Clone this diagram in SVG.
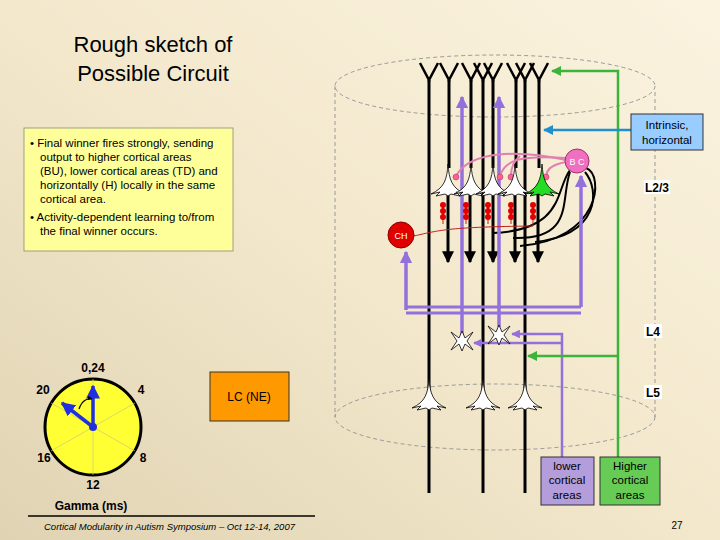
<svg xmlns="http://www.w3.org/2000/svg" xmlns:xlink="http://www.w3.org/1999/xlink" width="720" height="540" viewBox="0 0 720 540">
<defs>
<linearGradient id="bg" x1="1" y1="0" x2="0" y2="1"><stop offset="0" stop-color="#fbf3e0"/><stop offset="0.5" stop-color="#f3e8cc"/><stop offset="1" stop-color="#e0d3b3"/></linearGradient>
<marker id="ab" viewBox="0 0 10 10" refX="9" refY="5" markerWidth="4" markerHeight="4" orient="auto"><path d="M0,0L10,5L0,10z" fill="#000"/></marker>
<marker id="ap" viewBox="0 0 10 10" refX="9" refY="5" markerWidth="3.5" markerHeight="3.5" orient="auto"><path d="M0,0L10,5L0,10z" fill="#9370db"/></marker>
<marker id="ag" viewBox="0 0 10 10" refX="9" refY="5" markerWidth="4" markerHeight="4" orient="auto"><path d="M0,0L10,5L0,10z" fill="#3cb43c"/></marker>
<marker id="abl" viewBox="0 0 10 10" refX="9" refY="5" markerWidth="4" markerHeight="4" orient="auto"><path d="M0,0L10,5L0,10z" fill="#1e90d0"/></marker>
<marker id="ah" viewBox="0 0 10 10" refX="9" refY="5" markerWidth="4" markerHeight="4" orient="auto"><path d="M0,0L10,5L0,10z" fill="#2030e0"/></marker>
<path id="pyr" d="M0,-26 C1,-10 4,-2 17,4 L8,2 L12,6 L3,4 L0,6 L-3,4 L-12,6 L-8,2 L-17,4 C-4,-2 -1,-10 0,-26z" stroke="#000" stroke-width="0.8" fill="#fff"/>
<path id="star" d="M-11,-9 L-3,-3 L0,-10 L3,-3 L11,-9 L5,0 L11,9 L3,3 L0,10 L-3,3 L-11,9 L-5,0z" stroke="#000" stroke-width="0.8" fill="#fff"/>
<g id="chain" fill="#e00000"><ellipse cx="0" cy="-6" rx="3" ry="3"/><ellipse cx="0" cy="0" rx="3" ry="3"/><ellipse cx="0" cy="6" rx="3" ry="3"/><rect x="-1" y="-6" width="2" height="12"/></g>
<g id="yy" fill="none" stroke="#000" stroke-width="2.5"><path d="M0,82 L0,78 M-9,63 L0,80 L9,63"/></g>
<style>
text{font-family:"Liberation Sans",Arial,sans-serif}
.ax{stroke:#000;stroke-width:3;fill:none}
.pu{stroke:#9370db;stroke-width:3.5;fill:none}
.gr{stroke:#3cb43c;stroke-width:2.5;fill:none}
.lbl{font-size:12px;font-weight:bold}
</style>
</defs>
<rect width="720" height="540" fill="url(#bg)"/>
<text x="153" y="52" font-size="22" text-anchor="middle">Rough sketch of</text>
<text x="153" y="81" font-size="22" text-anchor="middle">Possible Circuit</text>
<g id="textbox"><rect x="24" y="128" width="209" height="123" fill="#ffff99" stroke="#888" stroke-width="0.8"/>
<g font-size="11.5"><text x="30" y="147">• Final winner fires strongly, sending</text><text x="40" y="161">output to higher cortical areas</text><text x="40" y="175">(BU), lower cortical areas (TD) and</text><text x="40" y="189">horizontally (H) locally in the same</text><text x="40" y="203">cortical area.</text><text x="30" y="221">• Activity-dependent learning to/from</text><text x="40" y="235">the final winner occurs.</text></g></g>
<g id="cylinder" fill="none" stroke="#999" stroke-width="1" stroke-dasharray="4,3">
<ellipse cx="495" cy="86" rx="160" ry="31"/><path d="M335,86 V417"/><path d="M655,92 V417"/><ellipse cx="495" cy="417" rx="160" ry="33"/></g>
<g id="connectors">
<g class="ax"><path d="M429,80 V493"/><path d="M449,80 V168"/><path d="M471,80 V168"/><path d="M483,80 V493"/><path d="M493,80 V168"/><path d="M516,80 V168"/><path d="M525,80 V493"/><path d="M539,80 V168"/>
<path d="M448,185 V262" marker-end="url(#ab)"/><path d="M470,185 V262" marker-end="url(#ab)"/><path d="M493,185 V262" marker-end="url(#ab)"/><path d="M515,185 V262" marker-end="url(#ab)"/><path d="M538,185 V262" marker-end="url(#ab)"/></g>
<use href="#yy" x="429"/><use href="#yy" x="449"/><use href="#yy" x="471"/><use href="#yy" x="483"/><use href="#yy" x="493"/><use href="#yy" x="516"/><use href="#yy" x="525"/><use href="#yy" x="539"/>
<g fill="none" stroke="#000" stroke-width="2"><path d="M570,170 C555,190 565,230 493,233"/><path d="M570,172 C560,200 575,240 513,238"/><path d="M585,172 C600,190 600,235 535,242"/><path d="M586,168 C605,175 600,240 520,246"/></g>
<path d="M462,334 V97" class="pu" marker-end="url(#ap)"/><path d="M499,327 V97" class="pu" marker-end="url(#ap)"/><path d="M581,307 V176" class="pu" marker-end="url(#ap)"/>
<path d="M406,310 V252" class="pu" marker-end="url(#ap)"/>
<path d="M406,307 H581 M406,313 H581" stroke="#9370db" stroke-width="3" fill="none"/>
<path d="M562,457 V334 H512" stroke="#9370db" stroke-width="2.5" fill="none" marker-end="url(#ap)"/><path d="M562,343 H474" stroke="#9370db" stroke-width="2.5" fill="none" marker-end="url(#ap)"/>
<path d="M618,457 V71 H552" class="gr" marker-end="url(#ag)"/><path d="M618,356 H528" class="gr" marker-end="url(#ag)"/>
<path d="M631,130 H544" stroke="#1e90d0" stroke-width="2.5" fill="none" marker-end="url(#abl)"/>
<g fill="none" stroke="#e080b0" stroke-width="2"><path d="M566,160 C520,150 470,150 456,176"/><path d="M566,158 C520,155 505,160 500,176"/><path d="M520,156 C512,162 511,170 511,176"/><path d="M566,162 C550,165 547,170 546,176"/></g>
<g fill="#ff6090" stroke="#a03060" stroke-width="0.5"><circle cx="456" cy="177" r="3"/><circle cx="500" cy="177" r="3"/><circle cx="511" cy="177" r="3"/><circle cx="546" cy="177" r="3"/></g>
<path d="M414,236 C440,230 450,227 533,226 M443,224 V214 M466,224 V214 M488,224 V214 M511,224 V214 M533,226 V214" fill="none" stroke="#c02020" stroke-width="1"/>
</g>
<g id="neurons"><use href="#pyr" x="448" y="190"/><use href="#pyr" x="471" y="190"/><use href="#pyr" x="493" y="190"/><use href="#pyr" x="515" y="190"/><path transform="translate(542,190)" d="M0,-26 C1,-10 4,-2 17,4 L8,2 L12,6 L3,4 L0,6 L-3,4 L-12,6 L-8,2 L-17,4 C-4,-2 -1,-10 0,-26z" fill="#22dd22" stroke="#000" stroke-width="0.8"/>
<use href="#chain" x="443" y="211"/><use href="#chain" x="466" y="211"/><use href="#chain" x="488" y="211"/><use href="#chain" x="511" y="211"/><use href="#chain" x="533" y="211"/>
<use href="#pyr" x="429" y="404"/><use href="#pyr" x="483" y="404"/><use href="#pyr" x="525" y="404"/>
<use href="#star" x="462" y="341"/><use href="#star" x="499" y="335"/></g>
<g id="BC"><circle cx="577" cy="161" r="12" fill="#f070c0" stroke="#a03070"/><text x="577" y="165" font-size="9" fill="#fff" text-anchor="middle">B C</text></g>
<g id="CH"><circle cx="401" cy="235" r="13" fill="#e00000" stroke="#800"/><text x="401" y="239" font-size="9" fill="#fff" text-anchor="middle">CH</text></g>
<g id="intrinsic"><rect x="631" y="114" width="72" height="36" fill="#99ccff" stroke="#333"/><text x="667" y="129" font-size="11.5" text-anchor="middle">Intrinsic,</text><text x="667" y="144" font-size="11.5" text-anchor="middle">horizontal</text></g>
<g id="layers"><rect x="644" y="180" width="26" height="14" fill="#fff"/><text x="657" y="192" class="lbl" text-anchor="middle">L2/3</text>
<rect x="644" y="324" width="18" height="14" fill="#fff"/><text x="653" y="336" class="lbl" text-anchor="middle">L4</text>
<rect x="644" y="385" width="18" height="14" fill="#fff"/><text x="653" y="397" class="lbl" text-anchor="middle">L5</text></g>
<g id="lower"><rect x="541" y="457" width="53" height="48" fill="#b39ddb" stroke="#333"/><text x="567" y="470" font-size="11.5" text-anchor="middle">lower</text><text x="567" y="484" font-size="11.5" text-anchor="middle">cortical</text><text x="567" y="499" font-size="11.5" text-anchor="middle">areas</text></g>
<g id="higher"><rect x="600" y="457" width="60" height="48" fill="#66cc55" stroke="#333"/><text x="630" y="470" font-size="11.5" text-anchor="middle">Higher</text><text x="630" y="484" font-size="11.5" text-anchor="middle">cortical</text><text x="630" y="499" font-size="11.5" text-anchor="middle">areas</text></g>
<g id="LC"><rect x="210" y="372" width="79" height="49" fill="#ff9900" stroke="#333"/><text x="249" y="401" font-size="12" text-anchor="middle">LC (NE)</text></g>
<g id="clock">
<circle cx="93" cy="427" r="48" fill="#ffff33" stroke="#000" stroke-width="3"/>
<g stroke="#c8c880" stroke-width="0.7"><path d="M93,379 V475 M51,403 L135,451 M135,403 L51,451"/></g>
<path d="M93,427 V386" stroke="#2030e0" stroke-width="3.5" marker-end="url(#ah)"/><path d="M93,427 L62,403" stroke="#2030e0" stroke-width="3.5" marker-end="url(#ah)"/>
<circle cx="93" cy="427" r="4" fill="#2030e0"/>
<path d="M79,409 C82,400 88,398 92,399" fill="none" stroke="#000" stroke-width="1.2" marker-end="url(#ab)"/>
<g font-size="12" font-weight="bold" text-anchor="middle"><text x="93" y="372">0,24</text><text x="141" y="394">4</text><text x="143" y="462">8</text><text x="93" y="489">12</text><text x="44" y="462">16</text><text x="43" y="394">20</text><text x="91" y="510">Gamma (ms)</text></g></g>
<path d="M28,516 H315" stroke="#000" stroke-width="1.5"/>
<text x="44" y="530" font-size="9.5" font-style="italic">Cortical Modularity in Autism  Symposium  – Oct 12-14, 2007</text>
<text x="677" y="529" font-size="10" text-anchor="middle">27</text>
</svg>
